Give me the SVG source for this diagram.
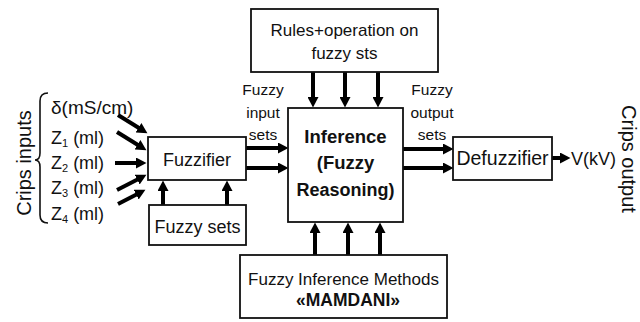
<svg xmlns="http://www.w3.org/2000/svg" width="640" height="322" viewBox="0 0 640 322">
<style>
.box{fill:#fff;stroke:#111;stroke-width:1.8}
.t{font-family:"Liberation Sans",Arial,sans-serif;fill:#111;font-size:17px}
.b{font-weight:bold}
.m{text-anchor:middle}
.ar{stroke:#000;stroke-width:4;fill:none;marker-end:url(#ah)}
</style>
<defs>
<marker id="ah" markerUnits="userSpaceOnUse" markerWidth="11" markerHeight="11" refX="2" refY="5.5" orient="auto">
<path d="M0,0 L10.5,5.5 L0,11 z" fill="#000"/>
</marker>
</defs>
<g id="connectors">
<line class="ar" x1="118" y1="115" x2="140.2" y2="128.8"/>
<line class="ar" x1="117" y1="132" x2="139.2" y2="145.8"/>
<line class="ar" x1="115" y1="163" x2="138" y2="163"/>
<line class="ar" x1="117" y1="190" x2="138.9" y2="178.7"/>
<line class="ar" x1="118" y1="204" x2="137.9" y2="193.7"/>
<line class="ar" x1="163" y1="205" x2="163" y2="189"/>
<line class="ar" x1="227" y1="205" x2="227" y2="189"/>
<line class="ar" x1="246" y1="148" x2="280" y2="148"/>
<line class="ar" x1="246" y1="168" x2="280" y2="168"/>
<line class="ar" x1="313" y1="72" x2="313" y2="99"/>
<line class="ar" x1="345" y1="72" x2="345" y2="99"/>
<line class="ar" x1="378" y1="72" x2="378" y2="99"/>
<line class="ar" x1="315" y1="255" x2="315" y2="231"/>
<line class="ar" x1="348" y1="255" x2="348" y2="231"/>
<line class="ar" x1="380" y1="255" x2="380" y2="231"/>
<line class="ar" x1="403" y1="149" x2="445" y2="149"/>
<line class="ar" x1="403" y1="168" x2="445" y2="168"/>
<line class="ar" x1="552" y1="158" x2="562" y2="158"/>
</g>
<g id="inputs">
<text class="t" transform="translate(31,163) rotate(-90)" text-anchor="middle" style="font-size:20px">Crips inputs</text>
<path d="M48,93 Q40,93 40,101 L40,153 Q40,160 35,160 Q40,160 40,167 L40,215 Q40,223 48,223" fill="none" stroke="#111" stroke-width="1.6"/>
<text class="t" x="51" y="114" style="font-size:19px">δ(mS/cm)</text>
<text class="t" x="51" y="144" style="font-size:18px">Z<tspan font-size="11" dy="3">1</tspan><tspan dy="-3"> (ml)</tspan></text>
<text class="t" x="51" y="169" style="font-size:18px">Z<tspan font-size="11" dy="3">2</tspan><tspan dy="-3"> (ml)</tspan></text>
<text class="t" x="51" y="194" style="font-size:18px">Z<tspan font-size="11" dy="3">3</tspan><tspan dy="-3"> (ml)</tspan></text>
<text class="t" x="51" y="220" style="font-size:18px">Z<tspan font-size="11" dy="3">4</tspan><tspan dy="-3"> (ml)</tspan></text>
</g>
<g id="fuzzifier">
<rect class="box" x="148" y="137" width="98" height="43"/>
<text class="t m" x="197" y="166" style="font-size:18px">Fuzzifier</text>
</g>
<g id="fuzzysets">
<rect class="box" x="149" y="205" width="97" height="40"/>
<text class="t m" x="197.5" y="233" style="font-size:18px">Fuzzy sets</text>
</g>
<g id="rules">
<rect class="box" x="251" y="9" width="187" height="63"/>
<text class="t m" x="344.5" y="36">Rules+operation on</text>
<text class="t m" x="344.5" y="59">fuzzy sts</text>
</g>
<g id="inference">
<rect class="box" x="288" y="108" width="115" height="114"/>
<text class="t b m" x="345.5" y="143" style="font-size:18.5px">Inference</text>
<text class="t b m" x="345.5" y="169" style="font-size:18.5px">(Fuzzy</text>
<text class="t b m" x="345.5" y="196" style="font-size:18px">Reasoning)</text>
</g>
<g id="methods">
<rect class="box" x="240" y="255" width="207" height="63"/>
<text class="t m" x="343.5" y="285">Fuzzy Inference Methods</text>
<text class="t b m" x="348" y="306" style="font-size:17.5px">«MAMDANI»</text>
</g>
<g id="labels">
<text class="t m" x="263" y="95" style="font-size:15.5px">Fuzzy</text>
<text class="t m" x="263" y="118" style="font-size:15.5px">input</text>
<text class="t m" x="263" y="140" style="font-size:15.5px">sets</text>
<text class="t m" x="432" y="95" style="font-size:15.5px">Fuzzy</text>
<text class="t m" x="432" y="118" style="font-size:15.5px">output</text>
<text class="t m" x="432" y="140" style="font-size:15.5px">sets</text>
</g>
<g id="defuzzifier">
<rect class="box" x="453" y="137" width="99" height="43"/>
<text class="t m" x="502.5" y="165" style="font-size:19.5px">Defuzzifier</text>
</g>
<g id="output">
<text class="t" x="571" y="165" style="font-size:18px">V(kV)</text>
<text class="t" transform="translate(622,159) rotate(90)" text-anchor="middle" style="font-size:20px">Crips output</text>
</g>
</svg>
